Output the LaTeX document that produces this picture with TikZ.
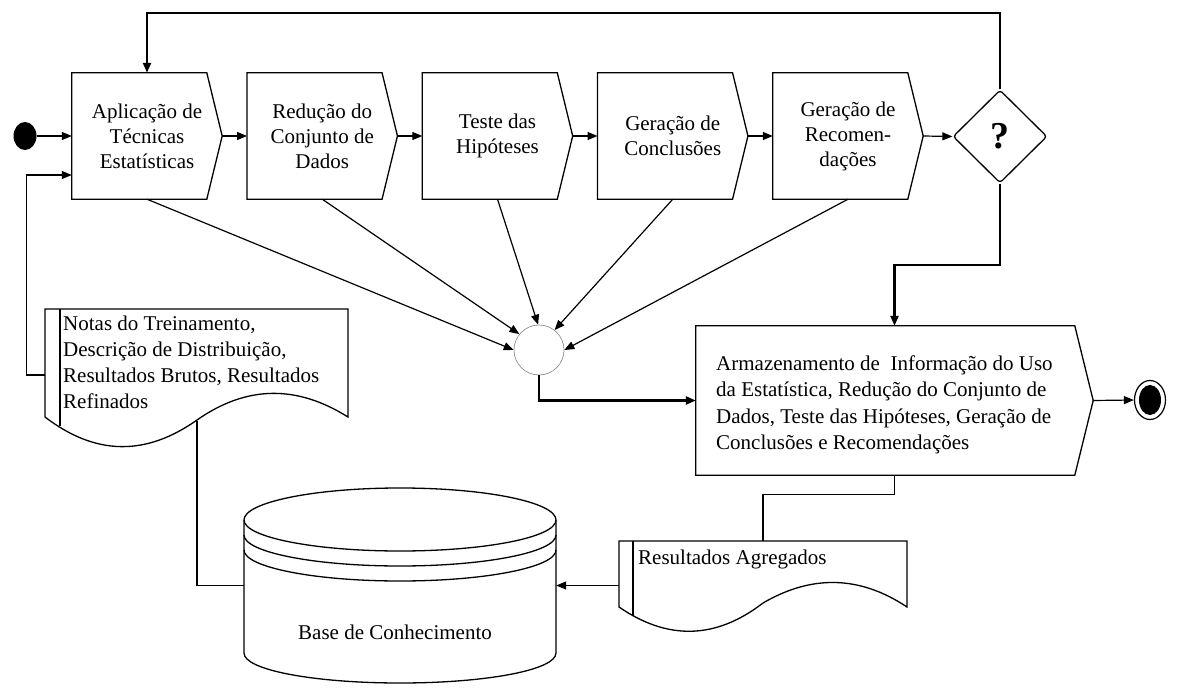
\documentclass[tikz,border=0pt]{standalone}
\usepackage{fontspec}
\setmainfont{Liberation Serif}
\usetikzlibrary{arrows.meta,shapes.geometric}
\newcommand{\dbarc}[1]{(244,#1) .. controls (244,#1+17.1) and (313.8,#1+31) .. (400,#1+31) .. controls (486.2,#1+31) and (556,#1+17.1) .. (556,#1)}
\begin{document}
\begin{tikzpicture}[x=1pt,y=-1pt,
  every node/.style={font={\fontsize{21}{25}\selectfont}},
  proc/.style={minimum width=150pt, minimum height=126pt, inner sep=0pt, align=center},
  conn/.style={line width=1.2pt},
  thickconn/.style={line width=2.2pt},
  arr/.style={-{Triangle[length=10pt,width=8pt]}},
  outline/.style={line width=1.3pt},
  box/.style={inner sep=0pt}]
\useasboundingbox (0,0) rectangle (1189,695);

% process boxes
\node[proc] (b1) at (147,136) {Aplicação de\\Técnicas\\Estatísticas};
\node[proc] (b2) at (322.25,136) {Redução do\\Conjunto de\\Dados};
\node[proc] (b3) at (497.5,136) {Teste das\\Hipóteses};
\node[proc] (b4) at (672.75,136) {Geração de\\Conclusões};
\node[proc] (b5) at (848,136) {Geração de\\Recomen-\\dações};
\foreach \b in {b1,b2,b3,b4,b5}
  \draw[outline] (\b.north west) -- ([xshift=135pt]\b.north west) -- (\b.east) -- ([xshift=135pt]\b.south west) -- (\b.south west) -- cycle;

% decision
\node[diamond, draw, outline, minimum width=94pt, minimum height=93pt, inner sep=0pt, rounded corners=3pt, font={\fontsize{38}{40}\selectfont\bfseries}] (q) at (1000,136.5) {?};

% start / end
\node[ellipse, fill=black, minimum width=23pt, minimum height=28pt, inner sep=0pt] (s) at (25,136) {};
\node[ellipse, draw, line width=1.2pt, minimum width=31pt, minimum height=39pt, inner sep=0pt] (e) at (1150,400) {};
\node[ellipse, fill=black, minimum width=22pt, minimum height=30pt, inner sep=0pt] (e2) at (e) {};

% merge
\node[circle, draw=gray, line width=0.6pt, minimum size=50pt, inner sep=0pt] (m) at (539,350) {};

% storage process
\node[box, minimum width=397pt, minimum height=149pt] (a) at (894.5,400.5) {};
\draw[outline] (a.north west) -- ([xshift=379pt]a.north west) -- (a.east) -- ([xshift=379pt]a.south west) -- (a.south west) -- cycle;
\node[anchor=west, align=left, inner sep=0pt, font={\fontsize{21}{26.5}\selectfont}] (at) at (716,405) {Armazenamento de~ Informação do Uso\\da Estatística, Redução do Conjunto de\\Dados, Teste das Hipóteses, Geração de\\Conclusões e Recomendações};

% documents
\node[box, minimum width=303pt, minimum height=108pt] (n) at (196.5,363) {};
\draw[outline, fill=white] (45,309) -- (348,309) -- (348,417) .. controls (297,385) and (247,385) .. (197,420) .. controls (146,456) and (96,456) .. (45,417) -- cycle;
\draw[outline] (60,309) -- (60,426);
\node[anchor=north west, align=left, inner sep=0pt, font={\fontsize{21}{26}\selectfont}] (nt) at (63,316) {Notas do Treinamento,\\Descrição de Distribuição,\\Resultados Brutos, Resultados\\Refinados};

\node[box, minimum width=288pt, minimum height=66pt] (r) at (763,574) {};
\draw[outline, fill=white] (619,541) -- (907,541) -- (907,607) .. controls (859,575) and (811,575) .. (763,603) .. controls (715,640) and (667,640) .. (619,607) -- cycle;
\draw[outline] (633,541) -- (633,616);
\node[anchor=base west, inner sep=0pt] (rt) at (638,564) {Resultados Agregados};

% database
\node[box, minimum width=312pt, minimum height=195pt] (db) at (400,585.5) {};
\draw[outline, fill=white] (244,520) -- (244,653) .. controls (244,670) and (313.8,683) .. (400,683) .. controls (486.2,683) and (556,670) .. (556,653) -- (556,520);
\draw[outline] (244,520) .. controls (244,502.3) and (313.8,488) .. (400,488) .. controls (486.2,488) and (556,502.3) .. (556,520);
\draw[outline] \dbarc{520};
\draw[outline] \dbarc{535};
\draw[outline] \dbarc{550};
\node[anchor=west, inner sep=0pt] (dbt) at (298,632) {Base de Conhecimento};

% connectors
\draw[conn,arr] (s.east) -- (b1.west);
\draw[conn,arr] (b1.east) -- (b2.west);
\draw[conn,arr] (b2.east) -- (b3.west);
\draw[conn,arr] (b3.east) -- (b4.west);
\draw[conn,arr] (b4.east) -- (b5.west);
\draw[conn,arr] (b5.east) -- (q.west);

\coordinate (t1) at (1000,13);
\coordinate (t2) at (147,13);
\draw[thickconn,arr] (q.north) -- (t1) -- (t2) -- (b1.north);

\coordinate (d1) at (1000,265);
\draw[thickconn,arr] (q.south) -- (d1) -| (a.north);

\draw[conn,arr] (b1.south) -- (m.180);
\draw[conn,arr] (b2.south) -- (m.141);
\draw[conn,arr] (b3.south) -- (m.92);
\draw[conn,arr] (b4.south) -- (m.52);
\draw[conn,arr] (b5.south) -- (m.0);

\draw[thickconn,arr] (m.south) |- (a.west);
\draw[conn,arr] (a.east) -- (e.west);

\draw[conn] (a.south) -- ++(0,19) -| (r.north);
\draw[conn,arr] (r.west |- db.east) -- (db.east);

\draw[conn,arr] ([yshift=-12pt]n.west) -- ++(-18,0) |- ([yshift=-39pt]b1.west);
\coordinate (nw) at (197,421);
\draw[conn] (nw) |- (db.west);
\end{tikzpicture}
\end{document}
